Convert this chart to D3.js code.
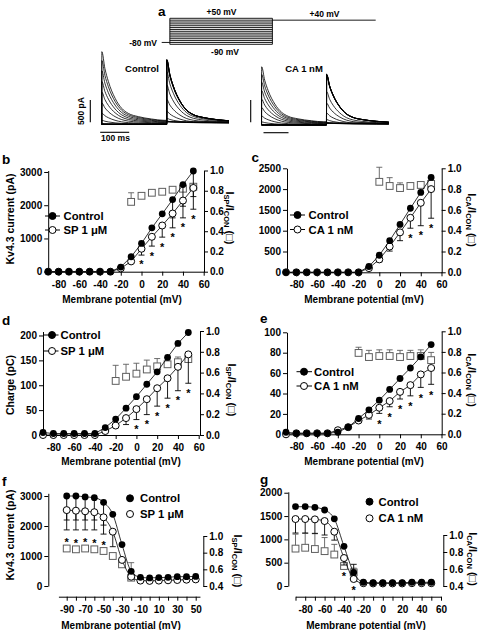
<!DOCTYPE html>
<html><head><meta charset="utf-8">
<script src="https://cdn.jsdelivr.net/npm/d3@7"></script>
<style>body{margin:0;background:#fff;}</style>
</head><body>
<script>
// ---------------- DATA ----------------
const mV = [-90,-80,-70,-60,-50,-40,-30,-20,-10,0,10,20,30,40,50];

// panel a: protocol + example traces
const protoSteps = [-90,-80,-70,-60,-50,-40,-30,-20,-10,0,10,20,30,40,50];
const protoHold = -80, protoTest = 40;
const protoTimes = [0, 22, 299, 578];          // hold start, step start, step end, test end (ms)
const traceT = [0, 11, 23, 46, 69, 92, 126, 172, 215];
const traceShape = [1, 0.77, 0.59, 0.36, 0.22, 0.15, 0.106, 0.073, 0.055];
const pulse2Start = 224;
const ctrlPeak1 = [0,0,0,0,0,0,20,90,250,480,720,960,1200,1430,1630];
const ctrlPeak2 = [1455,1450,1445,1440,1430,1400,1180,880,550,280,110,40,20,10,5];
const caPeak1 = [0,0,0,0,0,0,15,70,200,390,580,770,960,1140,1307];
const caPeak2 = [1140,1137,1135,1132,1125,1110,750,490,260,110,40,15,8,5,3];
const barTime = 100, barCurrent = 500;

// panel b
const bCtrl = [0,0,0,0,0,0,0,140,450,850,1320,1740,2170,2620,3030];
const bCtrlSem = [0,0,0,0,0,0,0,0,0,0,0,0,550,650,770];
const bSP = [0,0,0,0,0,0,0,100,310,690,1050,1390,1750,2140,2520];
const bSPSem = [0,0,0,0,0,0,0,0,0,190,280,350,430,520,640];
const bRatioV = [-10,0,10,20,30,40,50];
const bRatio = [0.69,0.75,0.78,0.79,0.81,0.82,0.84];
const bRatioSem = [0.09,0.02,0.01,0.01,0.01,0.01,0.01];
const bSig = [0,10,20,30,40,50];

// panel c
const cCtrl = [0,0,0,0,0,0,0,0,140,410,760,1150,1540,1920,2280];
const cCA = [0,0,0,0,0,0,0,0,100,310,620,960,1310,1670,2000];
const cCASem = [0,0,0,0,0,0,0,0,30,60,110,200,250,550,700];
const cRatioV = [0,10,20,30,40,50];
const cRatio = [0.87,0.83,0.81,0.83,0.84,0.85];
const cRatioSem = [0.14,0.08,0.05,0.02,0.01,0.01];
const cSig = [30,40,50];

// panel d
const dCtrl = [5,3,3,3,3,3,15,32,54,77,102,127,156,184,206];
const dSP = [0,0,0,0,0,0,8,19,34,52,72,94,114,137,162];
const dSPSem = [0,0,0,0,0,0,0,4,13,21,31,36,40,48,58];
const dRatioV = [-20,-10,0,10,20,30,40,50];
const dRatio = [0.52,0.56,0.59,0.63,0.66,0.68,0.70,0.73];
const dRatioSem = [0.15,0.12,0.10,0.09,0.075,0.065,0.05,0.04];
const dSig = [0,10,20,30,40,50];

// panel e
const eCtrl = [2,1,1,1,1,2,7,15.5,24,33.5,44,54.7,65,76,88];
const eCA = [0,1,1,1,1,4,7,13.5,19,26,32.6,41.6,48.2,58.7,65];
const eCASem = [0,0,0,0,0,0,0,1.5,4,5.5,5.6,7,10.5,12.7,16];
const eRatioV = [-20,-10,0,10,20,30,40,50];
const eRatio = [0.79,0.75,0.76,0.76,0.75,0.76,0.76,0.72];
const eRatioSem = [0.055,0.065,0.06,0.06,0.065,0.055,0.06,0.075];
const eSig = [0,10,20,30,40,50];

// panel f
const fCtrl = [3000,3000,2970,2945,2790,2390,1380,490,290,270,280,290,310,310,320];
const fCtrlSem = [800,800,770,745,760,0,0,0,0,0,0,0,0,0,0];
const fSP = [2530,2510,2490,2460,2290,1810,870,310,180,170,180,190,200,210,220];
const fSPSem = [660,640,620,590,560,500,0,0,0,0,0,0,0,0,0];
const fRatioV = [-90,-80,-70,-60,-50,-40,-30,-20];
const fRatio = [0.85,0.84,0.85,0.84,0.82,0.76,0.66,0.50];
const fRatioSem = [0.02,0.02,0.02,0.02,0.02,0.02,0.04,0.18];
const fSig = [-90,-80,-70,-60,-50];

// panel g
const gCtrl = [1700,1700,1686,1630,1440,850,290,80,70,70,70,70,80,80,80];
const gCtrlSemUp = [0,0,0,0,0,0,175,0,0,0,0,0,0,0,0];
const gCA = [1436,1436,1429,1393,1164,600,150,60,55,55,55,55,60,60,60];
const gCASem = [300,300,300,300,180,150,0,0,0,0,0,0,0,0,0];
const gRatioV = [-90,-80,-70,-60,-50,-40,-30];
const gRatio = [0.84,0.85,0.835,0.81,0.77,0.635,0.56];
const gRatioSem = [0.17,0.17,0.18,0.16,0.12,0.10,0.05];
const gSig = [-40,-30];

// ---------------- DRAWING ----------------
const FF = "'Liberation Sans', Arial, Helvetica, sans-serif";
const svg = d3.select("body").append("svg").attr("width",481).attr("height",630);

function txt(g,x,y,s,size,anchor){
  return g.append("text").attr("x",x).attr("y",y).text(s)
    .attr("font-size",size).attr("font-family",FF).attr("font-weight","bold")
    .attr("text-anchor",anchor||"start").attr("fill","#000");
}
function axStyle(sel){
  sel.attr("font-size",null).attr("font-family",null);
  sel.selectAll("path,line").attr("stroke","#000").attr("stroke-width",1);
  sel.selectAll("text").attr("font-family",FF).attr("font-weight","bold").attr("font-size",10).attr("fill","#000");
}

// panel letters
[["a",158,16],["b",2,163.5],["c",251.5,161.7],["d",2,325],["e",260,323.3],["f",2,486],["g",260,484]]
  .forEach(([l,x,y])=>txt(svg,x,y,l,13.5));

// ---- panel a: protocol ----
(function(){
  const g = svg.append("g");
  const tx = d3.scaleLinear([0,578],[161.7,375.7]);
  const vy = d3.scaleLinear([-90,50],[44.3,18.3]);
  const ln = (x1,y1,x2,y2)=>g.append("line").attr("x1",x1).attr("y1",y1).attr("x2",x2).attr("y2",y2).attr("stroke","#000").attr("stroke-width",0.9);
  ln(tx(protoTimes[0]),vy(protoHold),tx(protoTimes[1]),vy(protoHold));
  ln(tx(protoTimes[1]),vy(d3.min(protoSteps)),tx(protoTimes[1]),vy(d3.max(protoSteps)));
  ln(tx(protoTimes[2]),vy(d3.min(protoSteps)),tx(protoTimes[2]),vy(d3.max(protoSteps)));
  protoSteps.forEach(v=>ln(tx(protoTimes[1]),vy(v),tx(protoTimes[2]),vy(v)));
  ln(tx(protoTimes[2]),vy(protoTest),tx(protoTimes[3]),vy(protoTest));
  txt(g,221.5,14.5,"+50 mV",8.5,"middle");
  txt(g,324.5,17,"+40 mV",8.5,"middle");
  txt(g,225,54.5,"-90 mV",8.5,"middle");
  txt(g,157,45.5,"-80 mV",8.5,"end");

  // traces
  const line = d3.line().curve(d3.curveMonotoneX);
  function tracePts(p1,p2){
    const pts=[[0,0]];
    traceT.forEach((t,i)=>pts.push([t===0?0.5:t, p1*traceShape[i]]));
    const res = p1*traceShape[traceShape.length-1];
    pts.push([pulse2Start,res]);
    traceT.forEach((t,i)=>pts.push([pulse2Start+(t===0?0.5:t), p2*traceShape[i]+res*0.6]));
    return pts;
  }
  function drawSet(x0,base,p1s,p2s){
    const tX = d3.scaleLinear([0,100],[x0,x0+29]);
    const iY = d3.scaleLinear([0,1630],[base,base-72.6]);
    p1s.forEach((p1,i)=>{
      const pts = tracePts(p1,p2s[i]).map(([t,v])=>[tX(t),iY(v)]);
      g.append("path").attr("d",line(pts)).attr("fill","none").attr("stroke","#000").attr("stroke-width",0.8);
    });
    return {tX,iY};
  }
  const s1 = drawSet(101.7,124.3,ctrlPeak1,ctrlPeak2);
  const s2 = drawSet(261.5,125,caPeak1,caPeak2);
  // scale bars
  ln(90.3, s1.iY(0)-2, 90.3, s1.iY(barCurrent)-2).attr("stroke-width",1.1);
  ln(250.7, s2.iY(0)-2.7, 250.7, s2.iY(barCurrent)-2.7).attr("stroke-width",1.1);
  ln(s1.tX(0)-1.5,132.3,s1.tX(barTime)-1.5,132.3).attr("stroke-width",1.1);
  ln(s2.tX(0)+2,132.7,s2.tX(barTime)-2,132.7).attr("stroke-width",1.1);
  txt(g,115.5,141,"100 ms",8.5,"middle");
  txt(g,0,0,"500 pA",8.5,"middle").attr("transform","translate(84,111) rotate(-90)");
  txt(g,142,71.7,"Control",9.5,"middle");
  txt(g,304,71.7,"CA 1 nM",9.5,"middle");
})();

// ---- IV panels ----
function ivPanel(o){
  const g = svg.append("g");
  const x=o.x, yL=o.yL, yR=o.yR;
  g.append("g").attr("transform",`translate(${o.leftX},0)`)
    .call(d3.axisLeft(yL).tickValues(o.yLTicks).tickFormat(d3.format("d")).tickSize(4).tickPadding(2).tickSizeOuter(0)).call(axStyle);
  g.append("g").attr("transform",`translate(${o.rightX},0)`)
    .call(d3.axisRight(yR).tickValues(o.yRTicks).tickFormat(d3.format(".1f")).tickSize(4).tickPadding(2).tickSizeOuter(0)).call(axStyle);
  g.append("g").attr("transform",`translate(0,${o.bottomY})`)
    .call(d3.axisBottom(o.xAx||x).tickValues(o.xTicks).tickFormat(d=>o.xLabels.includes(d)?String(d):"").tickSize(4).tickPadding(5).tickSizeOuter(0)).call(axStyle);

  const gray="#5e5e5e";
  const errBar=(xv,y0,y1,col)=>{
    g.append("line").attr("x1",xv).attr("x2",xv).attr("y1",y0).attr("y2",y1).attr("stroke",col).attr("stroke-width",0.9);
    g.append("line").attr("x1",xv-3).attr("x2",xv+3).attr("y1",y1).attr("y2",y1).attr("stroke",col).attr("stroke-width",0.9);
  };
  // ratio squares
  o.rV.forEach((v,i)=>{ if(o.rSem[i]>0) errBar(x(v),yR(o.r[i]),yR(o.r[i]+o.rSem[i]),gray); });
  o.rV.forEach((v,i)=>{
    g.append("rect").attr("x",x(v)-3.4).attr("y",yR(o.r[i])-3.4).attr("width",6.8).attr("height",6.8)
      .attr("fill","#fff").attr("stroke",gray).attr("stroke-width",1);
  });
  // series error bars
  o.errs.forEach(e=>{
    mV.forEach((v,i)=>{ if(e.sem[i]>0) errBar(x(v),yL(e.val[i]),yL(e.val[i]+e.dir*e.sem[i]),"#000"); });
  });
  // lines
  const lineGen = d3.line().x((d,i)=>x(mV[i])).y(d=>yL(d)).curve(o.fit?d3.curveMonotoneX:d3.curveLinear);
  [o.drug,o.ctrl].forEach(arr=>g.append("path").attr("d",lineGen(arr)).attr("fill","none").attr("stroke","#000").attr("stroke-width",0.8));
  // markers
  o.drug.forEach((d,i)=>g.append("circle").attr("cx",x(mV[i])).attr("cy",yL(d)).attr("r",3.5).attr("fill","#fff").attr("stroke","#000").attr("stroke-width",1));
  o.ctrl.forEach((d,i)=>g.append("circle").attr("cx",x(mV[i])).attr("cy",yL(d)).attr("r",3.4).attr("fill","#000"));
  // significance stars
  o.sig.forEach(v=>txt(g,x(v),o.starY(v)+6.4,"*",11,"middle"));
  // legend
  const L=o.legend;
  [[L.y1,true,"Control"],[L.y2,false,o.drugName]].forEach(([yy,filled,lab])=>{
    if(L.line) g.append("line").attr("x1",L.x0).attr("x2",L.x1).attr("y1",yy).attr("y2",yy).attr("stroke","#000").attr("stroke-width",1);
    g.append("circle").attr("cx",L.cx).attr("cy",yy).attr("r",3.5).attr("fill",filled?"#000":"#fff").attr("stroke","#000").attr("stroke-width",1);
    txt(g,L.tx,yy+4,lab,11.3);
  });
  // axis titles
  txt(g,o.xTitle[0],o.xTitle[1],"Membrane potential (mV)",10,"middle");
  if(o.yTitle) txt(g,0,0,o.yTitle[2],10.5,"middle").attr("transform",`translate(${o.yTitle[0]+4},${o.yTitle[1]}) rotate(-90)`);
  const rt = g.append("text").attr("transform",`translate(${o.rTitle[0]-4},${o.rTitle[1]}) rotate(90)`)
    .attr("font-family",FF).attr("font-weight","bold").attr("font-size",11).attr("text-anchor","middle");
  rt.append("tspan").text("I");
  rt.append("tspan").text(o.drugAbbr).attr("font-size",7.5).attr("baseline-shift","-25%");
  rt.append("tspan").text("/I");
  rt.append("tspan").text("CON").attr("font-size",7.5).attr("baseline-shift","-25%");
  rt.append("tspan").text(" (\u25A1)");
}
const idx = v=>mV.indexOf(v);

// b
(function(){
  const x=d3.scaleLinear([-90,60],[48.2,203.7]);
  const yL=d3.scaleLinear([0,3045],[271.7,170.5]);
  const yR=d3.scaleLinear([0,1],[271.7,170.5]);
  ivPanel({x,yL,yR,leftX:48.2,rightX:204,bottomY:271.7,
    yLTicks:[0,1000,2000,3000],yRTicks:[0,0.2,0.4,0.6,0.8,1],
    xTicks:[-80,-60,-40,-20,0,20,40,60],xLabels:[-80,-60,-40,-20,0,20,40,60],
    rV:bRatioV,r:bRatio,rSem:bRatioSem,
    errs:[{val:bCtrl,sem:bCtrlSem,dir:-1},{val:bSP,sem:bSPSem,dir:-1}],
    ctrl:bCtrl,drug:bSP,sig:bSig,
    starY:v=>yL(bSP[idx(v)]-bSPSem[idx(v)])+7,
    legend:{line:true,x0:45,x1:60,cx:52.5,tx:63.5,y1:216,y2:230},
    drugName:"SP 1 \u03BCM",drugAbbr:"SP",
    xTitle:[122,303],yTitle:[10,219,"Kv4.3 current (pA)"],rTitle:[230,218]});
})();
// c
(function(){
  const x=d3.scaleLinear([-90,60],[286,441.5]);
  const yL=d3.scaleLinear([0,2500],[272.3,168.3]);
  const yR=d3.scaleLinear([0,1],[272.3,168.3]);
  ivPanel({x,yL,yR,leftX:287,rightX:441.7,bottomY:272.3,
    yLTicks:[0,500,1000,1500,2000,2500],yRTicks:[0,0.2,0.4,0.6,0.8,1],
    xTicks:[-80,-60,-40,-20,0,20,40,60],xLabels:[-80,-60,-40,-20,0,20,40,60],
    rV:cRatioV,r:cRatio,rSem:cRatioSem,
    errs:[{val:cCA,sem:cCASem,dir:-1}],
    ctrl:cCtrl,drug:cCA,sig:cSig,
    starY:v=>yL(cCA[idx(v)]-cCASem[idx(v)])+7,
    legend:{line:true,x0:290,x1:305,cx:297.5,tx:308.5,y1:215,y2:229.5},
    drugName:"CA 1 nM",drugAbbr:"CA",
    xTitle:[364,303],yTitle:null,rTitle:[471.7,220]});
})();
// d
(function(){
  const x=d3.scaleLinear([-90,60],[43,198.7]);
  const yL=d3.scaleLinear([0,208],[435,331.5]);
  const yR=d3.scaleLinear([0,1],[435,331]);
  ivPanel({x,yL,yR,leftX:43,rightX:200,bottomY:435,
    yLTicks:[0,50,100,150,200],yRTicks:[0,0.2,0.4,0.6,0.8,1],
    xTicks:[-80,-60,-40,-20,0,20,40,60],xLabels:[-80,-60,-40,-20,0,20,40,60],
    rV:dRatioV,r:dRatio,rSem:dRatioSem,
    errs:[{val:dSP,sem:dSPSem,dir:-1}],
    ctrl:dCtrl,drug:dSP,sig:dSig,
    starY:v=>yL(dSP[idx(v)]-dSPSem[idx(v)])+7,
    legend:{line:true,x0:43,x1:58.5,cx:52,tx:60.5,y1:335,y2:351},
    drugName:"SP 1 \u03BCM",drugAbbr:"SP",
    xTitle:[121,465],yTitle:[10,385,"Charge (pC)"],rTitle:[231.5,390]});
})();
// e
(function(){
  const x=d3.scaleLinear([-90,60],[286,441.5]);
  const yL=d3.scaleLinear([0,100],[434.3,332.3]);
  const yR=d3.scaleLinear([0,1],[434.3,331.3]);
  ivPanel({x,yL,yR,leftX:287,rightX:441.7,bottomY:434.3,
    yLTicks:[0,20,40,60,80,100],yRTicks:[0,0.2,0.4,0.6,0.8,1],
    xTicks:[-80,-60,-40,-20,0,20,40,60],xLabels:[-80,-60,-40,-20,0,20,40,60],
    rV:eRatioV,r:eRatio,rSem:eRatioSem,
    errs:[{val:eCA,sem:eCASem,dir:-1}],
    ctrl:eCtrl,drug:eCA,sig:eSig,
    starY:v=>yL(eCA[idx(v)]-eCASem[idx(v)])+8,
    legend:{line:true,x0:296.5,x1:312,cx:304,tx:314,y1:371.7,y2:386},
    drugName:"CA 1 nM",drugAbbr:"CA",
    xTitle:[364,465],yTitle:null,rTitle:[471.7,380]});
})();
// f
(function(){
  const x=d3.scaleLinear([-90,50],[66.7,195.7]);
  const xAx=x.copy().domain([-99,54.6]).range([x(-99),x(54.6)]);
  const yL=d3.scaleLinear([0,3090],[586,493.3]);
  const yR=d3.scaleLinear([0.4,1],[586,536]);
  ivPanel({x,xAx,yL,yR,leftX:48.3,rightX:203.3,bottomY:596.7,fit:true,
    yLTicks:[0,1000,2000,3000],yRTicks:[0.4,0.6,0.8,1],
    xTicks:[-90,-80,-70,-60,-50,-40,-30,-20,-10,0,10,20,30,40,50],xLabels:[-90,-70,-50,-30,-10,10,30,50],
    rV:fRatioV,r:fRatio,rSem:fRatioSem,
    errs:[{val:fCtrl,sem:fCtrlSem,dir:-1},{val:fSP,sem:fSPSem,dir:-1}],
    ctrl:fCtrl,drug:fSP,sig:fSig,
    starY:v=>{const i=fRatioV.indexOf(v);return yR(fRatio[i]+fRatioSem[i])-7;},
    legend:{line:false,cx:130,tx:140,y1:498.3,y2:514},
    drugName:"SP 1 \u03BCM",drugAbbr:"SP",
    xTitle:[121,628.5],yTitle:[10,535,"Kv4.3 current (pA)"],rTitle:[237.5,561]});
})();
// g
(function(){
  const x=d3.scaleLinear([-90,60],[295.5,441]);
  const yL=d3.scaleLinear([0,2020],[586,491.8]);
  const yR=d3.scaleLinear([0.4,1],[586,535]);
  ivPanel({x,yL,yR,leftX:288.3,rightX:443.3,bottomY:596.7,fit:true,
    yLTicks:[0,500,1000,1500,2000],yRTicks:[0.4,0.6,0.8,1],
    xTicks:[-90,-80,-70,-60,-50,-40,-30,-20,-10,0,10,20,30,40,50,60],xLabels:[-80,-60,-40,-20,0,20,40,60],
    rV:gRatioV,r:gRatio,rSem:gRatioSem,
    errs:[{val:gCA,sem:gCASem,dir:-1},{val:gCtrl,sem:gCtrlSemUp,dir:1}],
    ctrl:gCtrl,drug:gCA,sig:gSig,
    starY:v=>yL(gCA[idx(v)]-gCASem[idx(v)])+9,
    legend:{line:false,cx:369.5,tx:378.5,y1:501.7,y2:518.3},
    drugName:"CA 1 nM",drugAbbr:"CA",
    xTitle:[366,628.5],yTitle:null,rTitle:[473,559]});
})();
</script>
</body></html>
